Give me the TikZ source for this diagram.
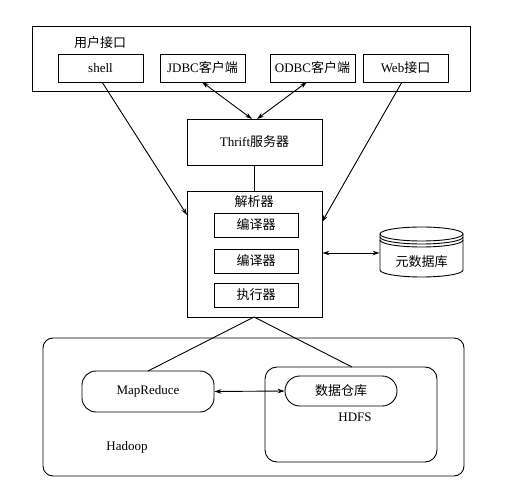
\documentclass[tikz,border=0pt]{standalone}
\usepackage{fontspec}
\setmainfont{Liberation Serif}
\newfontfamily\cjk{Noto Sans CJK SC}
\usetikzlibrary{arrows.meta}
\begin{document}
\begin{tikzpicture}[x=1pt,y=-1pt,
  line width=0.9pt,
  box/.style={draw, rectangle, inner sep=0pt, font=\fontsize{13}{15}\selectfont},
  rbox/.style={draw, rectangle, rounded corners=#1, inner sep=0pt, font=\fontsize{13}{15}\selectfont},
  lbl/.style={inner sep=0pt, font=\fontsize{13}{15}\selectfont},
  arr/.style={{Stealth[length=7pt,width=4.5pt]}-{Stealth[length=7pt,width=4.5pt]}},
  sarr/.style={-{Stealth[length=7pt,width=4.5pt]}}]
\useasboundingbox (0,0) rectangle (519,502);
\fill[white] (0,0) rectangle (519,502);

% user interface
\node[box, minimum width=438, minimum height=65] (ui) at (251,58.5) {};
\node[lbl] (uil) at (100,43) {\cjk 用户接口};
\node[box, minimum width=85, minimum height=28] (shell) at (100.5,68) {shell};
\node[box, minimum width=85, minimum height=28] (jdbc) at (202.5,68) {JDBC\cjk 客户端};
\node[box, minimum width=85, minimum height=28] (odbc) at (312.5,68) {ODBC\cjk 客户端};
\node[box, minimum width=85, minimum height=28] (web) at (405.5,68) {Web\cjk 接口};

% thrift
\node[box, minimum width=135, minimum height=46] (thrift) at (254.5,142) {Thrift\cjk 服务器};

% parser
\node[box, minimum width=135, minimum height=126] (parser) at (254.5,254) {};
\node[lbl] (parl) at (254,202) {\cjk 解析器};
\node[box, minimum width=84, minimum height=24] (c1) at (256,225) {\cjk 编译器};
\node[box, minimum width=84, minimum height=24] (c2) at (256,261) {\cjk 编译器};
\node[box, minimum width=84, minimum height=24] (ex) at (256,295) {\cjk 执行器};

% metastore cylinder
\node[inner sep=0pt, minimum width=83, minimum height=50] (meta) at (421.5,252) {};
\draw[fill=white] (380,234) -- (380,270) arc[start angle=180, end angle=0, x radius=41.5, y radius=7] -- (463,234);
\draw (421.5,234) ellipse[x radius=41.5, y radius=7];
\draw (380,237) arc[start angle=180, end angle=0, x radius=41.5, y radius=7];
\draw (380,240) arc[start angle=180, end angle=0, x radius=41.5, y radius=7];
\node[lbl] (metal) at (421.5,262) {\cjk 元数据库};

% hadoop
\node[rbox=10, minimum width=421, minimum height=138] (hadoop) at (253.5,407) {};
\node[rbox=14, minimum width=132, minimum height=41] (mr) at (148,391.5) {MapReduce};
\node[rbox=12, minimum width=172, minimum height=95] (hdfs) at (351,414.5) {};
\node[rbox=14.9, minimum width=112, minimum height=30] (dw) at (341,391) {\cjk 数据仓库};
\node[lbl] (hdfsl) at (355,417) {HDFS};
\node[lbl] (hadl) at (127,447) {Hadoop};

% coordinates for connector ends
\coordinate (shellb) at (102,82);
\coordinate (parsl) at (187,215);
\coordinate (webb) at (402,82);
\coordinate (parsr) at (322,222);
\coordinate (jdbcb) at (202,82);
\coordinate (thl) at (252,119);
\coordinate (odbcb) at (307,82);
\coordinate (thr) at (257,119);
\coordinate (mrt) at (148,371);
\coordinate (hdfst) at (352,367);
\coordinate (parb) at (254,317);

% connectors
\draw[sarr] (shellb) -- (parsl);
\draw[sarr] (webb) -- (parsr);
\draw[arr] (jdbcb) -- (thl);
\draw[arr] (odbcb) -- (thr);
\draw (thrift.south) -- (parser.north);
\draw[arr] (parser.east |- 0,253) -- (meta.west |- 0,253);
\draw (parb) -- (mrt);
\draw (parb) -- (hdfst);
\draw[arr] (mr.east) -- (dw.west);
\end{tikzpicture}
\end{document}
